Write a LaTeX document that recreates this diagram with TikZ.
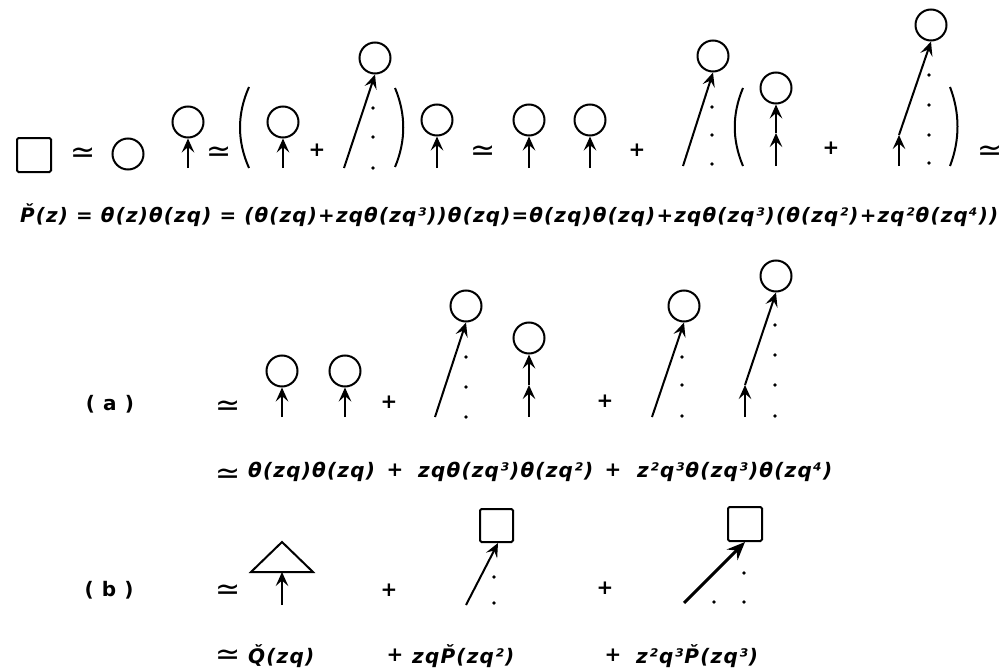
\documentclass[tikz,border=0pt]{standalone}
\usepackage{fontspec}
\setmainfont{DejaVu Sans}
\newfontfamily\lf[LetterSpace=6]{DejaVu Sans}
\usetikzlibrary{arrows.meta}
\newcommand\tx{\fontsize{20}{20}\selectfont\lf\bfseries\itshape}
\newcommand\sm{\fontsize{30}{30}\selectfont ≃}
\newcommand\pl{\fontsize{20}{20}\selectfont\bfseries +}
\begin{document}
\begin{tikzpicture}[x=1pt,y=-1pt,
  ball/.style={circle,draw,line width=2pt,minimum size=31pt,inner sep=0pt},
  boxn/.style={rectangle,draw,line width=2pt,minimum size=33pt,rounded corners=1.5pt,inner sep=0pt},
  ln/.style={line width=2pt},
  arr/.style={line width=2pt,-{Stealth[length=14pt,width=12.5pt,inset=5.5pt]}},
  thickarr/.style={line width=3pt,-{Stealth[length=18pt,width=15pt,inset=6pt]}},
  txt/.style={inner sep=0pt,font=\tx},
  sym/.style={inner sep=0pt,yshift=-5pt},
  pls/.style={inner sep=0pt},
  dotp/.style={fill=black}]
\useasboundingbox (0,0) rectangle (1002,669);
% ---------- row 1 ----------
\node[boxn,minimum size=34pt] (s0) at (34,155) {};
\node[sym] (q1) at (83,150) {\sm};
\node[ball] (c0) at (128,154) {};
\node[ball] (c1) at (188,122) {};
\coordinate (b1) at (188,168);
\draw[arr] (b1) -- (c1.south);
\node[sym] (q2) at (219,149) {\sm};
\draw[ln] (249,87) .. controls (237,114) and (237,141) .. (249,168);
\node[ball] (c2) at (283,122) {};
\coordinate (b2) at (283,168);
\draw[arr] (b2) -- (c2.south);
\node[pls] (p1) at (317,150) {\pl};
\node[ball] (c3) at (375,58) {};
\coordinate (b3) at (344,168);
\draw[arr] (b3) -- (c3.south);
\foreach \y in {108,137,168} \fill[dotp] (373,\y) circle (1.9pt);
\draw[ln] (395,88) .. controls (406,114) and (406,141) .. (395,167);
\node[ball] (c4) at (437,120) {};
\coordinate (b4) at (437,168);
\draw[arr] (b4) -- (c4.south);
\node[sym] (q3) at (483,148) {\sm};
\node[ball] (c5) at (529,120) {};
\coordinate (b5) at (529,168);
\draw[arr] (b5) -- (c5.south);
\node[ball] (c6) at (590,120) {};
\coordinate (b6) at (590,168);
\draw[arr] (b6) -- (c6.south);
\node[pls] (p2) at (637,150) {\pl};
\node[ball] (c7) at (713,56) {};
\coordinate (b7) at (683,166);
\draw[arr] (b7) -- (c7.south);
\foreach \y in {107,135,164} \fill[dotp] (712,\y) circle (1.9pt);
\draw[ln] (743,88) .. controls (732,114) and (732,140) .. (743,166);
\node[ball] (c8) at (776,88) {};
\coordinate (b8) at (776,166);
\coordinate (m8) at (776,133);
\draw[arr] (b8) -- (m8);
\draw[arr] (m8) -- (c8.south);
\node[pls] (p3) at (831,148) {\pl};
\node[ball] (c9) at (931,25) {};
\coordinate (b9) at (899,166);
\coordinate (m9) at (899,135);
\draw[arr] (b9) -- (m9);
\draw[arr] (m9) -- (c9.south);
\foreach \y in {75,105,135,163} \fill[dotp] (929,\y) circle (1.9pt);
\draw[ln] (950,87) .. controls (960,113) and (960,140) .. (950,166);
\node[sym] (q4) at (990,148) {\sm};
% ---------- row 2 ----------
\node[txt,anchor=west] (t2) at (20,215) {\resizebox{978pt}{!}{\tx \v{P}(z) = θ(z)θ(zq) = (θ(zq)+zqθ(zq³))θ(zq)=θ(zq)θ(zq)+zqθ(zq³)(θ(zq²)+zq²θ(zq⁴))}};
% ---------- row 3 (a) ----------
\node[pls,font=\fontsize{20}{20}\selectfont\lf\bfseries] (la) at (110,404) {( a )};
\node[sym] (q5) at (228,403) {\sm};
\node[ball] (d1) at (282,371) {};
\coordinate (e1) at (282,417);
\draw[arr] (e1) -- (d1.south);
\node[ball] (d2) at (345,371) {};
\coordinate (e2) at (345,417);
\draw[arr] (e2) -- (d2.south);
\node[pls] (p4) at (389,402) {\pl};
\node[ball] (d3) at (466,306) {};
\coordinate (e3) at (435,417);
\draw[arr] (e3) -- (d3.south);
\foreach \y in {357,387,417} \fill[dotp] (466,\y) circle (1.9pt);
\node[ball] (d4) at (529,338) {};
\coordinate (e4) at (529,417);
\coordinate (m4) at (529,385);
\draw[arr] (e4) -- (m4);
\draw[arr] (m4) -- (d4.south);
\node[pls] (p5) at (605,401) {\pl};
\node[ball] (d5) at (684,306) {};
\coordinate (e5) at (652,417);
\draw[arr] (e5) -- (d5.south);
\foreach \y in {357,385,416} \fill[dotp] (682,\y) circle (1.9pt);
\node[ball] (d6) at (776,276) {};
\coordinate (e6) at (745,417);
\coordinate (m6) at (745,385);
\draw[arr] (e6) -- (m6);
\draw[arr] (m6) -- (d6.south);
\foreach \y in {325,355,385,416} \fill[dotp] (775,\y) circle (1.9pt);
% ---------- row 4 ----------
\node[sym] (q6) at (228,471) {\sm};
\node[txt,anchor=west] (t4a) at (248,472) {θ(zq)θ(zq)};
\node[pls] (p6) at (395,470) {\pl};
\node[txt,anchor=west] (t4b) at (418,472) {zqθ(zq³)θ(zq²)};
\node[pls] (p7) at (613,470) {\pl};
\node[txt,anchor=west] (t4c) at (637,472) {z²q³θ(zq³)θ(zq⁴)};
% ---------- row 5 (b) ----------
\node[pls,font=\fontsize{20}{20}\selectfont\lf\bfseries] (lb) at (109,590) {( b )};
\node[sym] (q7) at (228,587) {\sm};
\draw[ln,line join=miter] (251,572) -- (282,542) -- (313,572) -- cycle;
\coordinate (tri) at (282,572);
\coordinate (f1) at (282,605);
\draw[arr] (f1) -- (tri);
\node[pls] (p8) at (389,590) {\pl};
\node[boxn] (s1) at (496.5,525.5) {};
\coordinate (f2) at (466,605);
\draw[arr] (f2) -- ([xshift=1.5pt]s1.south);
\fill[dotp] (494,577) circle (1.9pt);
\fill[dotp] (494,603) circle (1.9pt);
\node[pls] (p9) at (605,588) {\pl};
\node[boxn,minimum size=34pt] (s2) at (745,524) {};
\coordinate (f3) at (684,603);
\draw[thickarr] (f3) -- (s2.south);
\fill[dotp] (744,573) circle (1.9pt);
\fill[dotp] (744,602) circle (1.9pt);
\fill[dotp] (714,602) circle (1.9pt);
% ---------- row 6 ----------
\node[sym] (q8) at (228,652) {\sm};
\node[txt,anchor=west] (t6a) at (248,656) {\v{Q}(zq)};
\node[pls] (p10) at (395,655) {\pl};
\node[txt,anchor=west] (t6b) at (412,656) {zq\v{P}(zq²)};
\node[pls] (p11) at (613,655) {\pl};
\node[txt,anchor=west] (t6c) at (636,656) {z²q³\v{P}(zq³)};
\end{tikzpicture}
\end{document}
